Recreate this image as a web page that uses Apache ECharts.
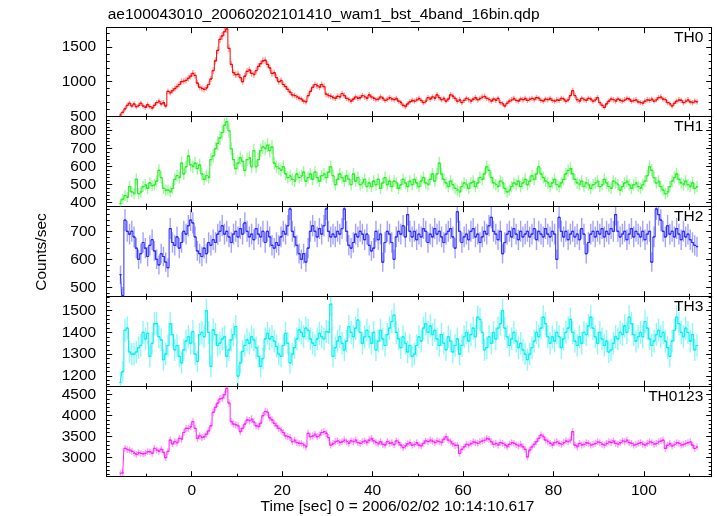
<!DOCTYPE html>
<html><head><meta charset="utf-8">
<script src="https://cdn.jsdelivr.net/npm/echarts@6/dist/echarts.min.js"></script>
<style>html,body{margin:0;padding:0;background:#fff}#c{width:717px;height:516px}</style>
</head><body><div id="c"></div>
<script>
// ---- data (0.5 s bins starting at t = -16 s) ----
const binStart = -16;
const binWidth = 0.5;
const xMajorTicks = [0, 20, 40, 60, 80, 100];
const xMinorTicks = [-10, 10, 30, 50, 70, 90, 110];
const panelNames = ['TH0', 'TH1', 'TH2', 'TH3', 'TH0123'];
const yTicksTH0 = [500, 1000, 1500];
const yTicksTH1 = [400, 500, 600, 700, 800];
const yTicksTH2 = [500, 600, 700];
const yTicksTH3 = [1200, 1300, 1400, 1500];
const yTicksTH0123 = [3000, 3500, 4000, 4500];

const th0 = [
520,560,610,660,690,650,680,640,660,690,
650,630,670,640,620,660,700,720,680,700,
650,860,840,870,900,930,960,1000,1010,1020,
1050,1080,1120,1090,980,920,900,890,910,960,
1040,1160,1300,1450,1610,1660,1720,1760,1480,1250,
1130,1100,1110,1060,1000,1080,1150,1170,1120,1100,
1160,1220,1260,1300,1310,1250,1200,1120,1130,1060,
1000,1020,960,930,890,850,810,800,780,760,
750,720,710,800,860,920,960,940,920,960,
930,820,800,790,770,760,790,780,830,800,
760,740,720,750,780,760,770,800,780,760,
810,780,760,740,750,780,760,730,750,770,
750,740,760,720,700,660,640,680,710,730,
720,740,760,730,700,720,770,750,780,760,
810,770,740,760,720,750,810,790,760,720,
740,700,730,760,740,720,750,770,740,760,
780,790,760,740,720,750,730,760,700,680,
650,690,720,740,760,730,720,750,740,760,
730,750,760,740,770,760,730,720,750,740,
760,730,720,740,730,760,750,720,740,800,
870,800,740,720,760,740,730,760,750,720,
740,770,700,660,630,680,720,750,740,720,
750,730,720,740,760,750,720,730,740,710,
700,690,720,740,730,750,720,740,770,780,
750,740,700,680,650,690,720,740,730,700,
720,740,710,700,720,710];

const th1 = [
395,420,440,430,490,460,450,530,450,460,
490,500,480,510,495,500,520,580,540,480,
470,470,460,480,530,550,540,620,560,600,
660,610,600,620,590,610,560,530,550,540,
640,660,700,730,760,790,830,850,800,700,
640,590,620,650,630,580,640,650,600,690,
600,640,690,710,700,720,690,710,620,600,
590,580,600,560,540,550,530,520,560,540,
550,570,520,540,560,530,570,540,520,550,
560,540,570,600,550,500,530,560,540,520,
550,530,500,560,520,540,500,510,530,490,
510,490,520,500,530,480,510,540,500,520,
490,520,510,480,500,530,510,490,520,500,
530,510,490,520,540,510,500,530,560,520,
560,620,560,530,510,490,520,500,480,470,
460,490,510,500,480,510,520,490,510,540,
530,560,600,580,540,510,500,490,520,510,
480,460,470,490,510,500,520,490,510,530,
500,520,550,530,560,600,560,540,520,510,
490,510,530,500,490,510,530,560,580,590,
560,530,510,500,520,490,510,500,480,500,
510,520,490,500,530,510,490,480,520,510,
500,470,490,510,520,500,480,500,510,490,
480,500,520,550,600,580,540,510,520,490,
470,450,460,490,520,540,560,530,510,500,
520,500,490,510,480,490];

const th2 = [
545,470,740,700,690,700,680,640,600,620,
660,640,610,650,670,630,600,580,620,610,
590,570,710,660,650,680,640,660,700,690,
720,740,730,680,630,620,610,640,620,660,
650,670,660,690,700,720,690,700,680,660,
690,700,680,710,690,730,700,680,690,670,
710,690,680,700,660,700,680,650,640,660,
650,680,700,690,720,780,700,680,650,620,
600,620,590,640,700,720,700,680,710,690,
720,780,700,680,690,680,700,690,710,780,
700,650,640,660,690,680,700,690,670,690,
650,630,640,700,670,690,590,660,700,690,
660,600,680,700,690,720,680,760,700,680,
700,670,690,680,710,700,660,690,680,710,
690,700,680,660,690,700,710,680,640,770,
700,660,680,690,670,700,710,680,690,660,
680,700,690,720,750,700,690,670,700,620,
660,690,700,680,710,690,670,700,680,690,
700,680,690,710,670,700,690,680,710,690,
680,700,690,600,750,700,680,700,670,690,
700,680,690,670,710,690,620,660,690,700,
680,700,690,710,680,700,690,710,700,760,
700,680,690,700,670,690,710,680,700,690,
680,700,670,690,700,590,680,780,760,740,
700,680,720,690,700,680,710,690,670,700,
680,690,670,660,650,645];

const th3 = [
1170,1220,1410,1420,1310,1300,1300,1310,1330,1340,
1400,1370,1396,1290,1350,1440,1440,1380,1366,1275,
1300,1340,1440,1390,1320,1340,1290,1260,1320,1360,
1380,1350,1404,1300,1267,1390,1400,1380,1500,1400,
1244,1412,1390,1340,1351,1370,1380,1290,1320,1366,
1390,1427,1199,1260,1313,1340,1366,1350,1380,1366,
1330,1290,1244,1280,1370,1396,1370,1381,1360,1336,
1300,1290,1340,1396,1350,1260,1300,1330,1370,1412,
1400,1380,1420,1410,1370,1351,1340,1370,1396,1380,
1370,1404,1400,1530,1290,1330,1360,1381,1350,1320,
1360,1427,1400,1380,1420,1457,1400,1350,1380,1410,
1380,1350,1400,1320,1360,1410,1370,1340,1390,1420,
1450,1480,1400,1370,1330,1380,1350,1310,1340,1290,
1300,1340,1380,1360,1420,1440,1400,1430,1390,1410,
1370,1340,1390,1350,1320,1380,1360,1310,1340,1370,
1300,1340,1380,1400,1360,1390,1420,1380,1470,1460,
1400,1320,1330,1380,1350,1400,1370,1420,1440,1500,
1420,1380,1340,1370,1400,1360,1330,1350,1320,1300,
1275,1300,1330,1360,1400,1380,1420,1470,1440,1380,
1350,1380,1360,1400,1380,1330,1370,1400,1420,1460,
1400,1360,1340,1380,1350,1400,1390,1430,1470,1420,
1380,1350,1400,1370,1340,1360,1310,1320,1350,1380,
1370,1400,1390,1430,1400,1470,1440,1390,1360,1380,
1400,1380,1450,1420,1370,1340,1360,1390,1410,1380,
1400,1360,1330,1290,1360,1410,1470,1440,1400,1380,
1420,1400,1360,1390,1320,1340];

const th0123 = [
2630,2640,3222,3190,3180,3150,3106,3080,3120,3100,
3090,3110,3145,3140,3100,3220,3180,3150,3200,3130,
3000,3150,3420,3330,3380,3350,3460,3440,3600,3700,
3700,3740,3860,3700,3460,3520,3480,3500,3560,3640,
3760,4080,4200,4300,4400,4420,4500,4650,4300,3860,
3800,3780,3760,3620,3700,3800,3900,3880,3920,3850,
3760,3740,3820,4000,4100,4080,3950,3900,3820,3760,
3700,3660,3600,3520,3500,3480,3380,3420,3360,3340,
3340,3300,3260,3580,3500,3520,3560,3500,3540,3600,
3620,3580,3480,3300,3340,3380,3400,3360,3380,3420,
3380,3340,3400,3380,3420,3360,3340,3380,3400,3360,
3420,3460,3400,3360,3330,3380,3320,3300,3380,3340,
3360,3310,3400,3360,3300,3240,3280,3330,3360,3300,
3320,3360,3300,3280,3340,3400,3380,3420,3390,3360,
3400,3380,3360,3440,3500,3420,3380,3330,3290,3300,
3100,3200,3260,3320,3300,3340,3380,3360,3340,3380,
3400,3420,3460,3440,3380,3320,3340,3300,3360,3340,
3300,3260,3320,3360,3340,3310,3280,3320,3260,3200,
3020,3180,3260,3320,3380,3460,3540,3500,3420,3380,
3340,3300,3360,3380,3340,3320,3360,3400,3380,3420,
3620,3300,3260,3340,3300,3320,3360,3340,3300,3320,
3340,3380,3360,3320,3300,3340,3380,3360,3400,3340,
3320,3360,3400,3380,3420,3360,3340,3300,3320,3340,
3360,3320,3300,3340,3380,3360,3320,3340,3380,3400,
3420,3220,3300,3340,3280,3320,3360,3340,3300,3320,
3340,3360,3380,3300,3220,3260];

// ---- layout / style ----
const FONT = '"Liberation Sans", Arial, Helvetica, sans-serif';
const XMIN = -18.8, XMAX = 115;
const edges = [27.7, 116.7, 206.7, 296.7, 386.2, 476.7];
const LEFT = 106.7, RIGHT = 5.3;
const panels = [
  {data: th0, ticks: yTicksTH0, minor: 100, min: 496, max: 1778, color: '#ff0000', bar: 'rgba(255,40,40,0.45)'},
  {data: th1, ticks: yTicksTH1, minor: 20, min: 378, max: 878, color: '#22ee22', bar: 'rgba(40,240,40,0.45)'},
  {data: th2, ticks: yTicksTH2, minor: 20, min: 466.4, max: 788, color: '#2a2aff', bar: 'rgba(50,50,255,0.45)'},
  {data: th3, ticks: yTicksTH3, minor: 20, min: 1153, max: 1564, color: '#00eeee', bar: 'rgba(0,240,240,0.45)'},
  {data: th0123, ticks: yTicksTH0123, minor: 100, min: 2548, max: 4702, color: '#ff22ff', bar: 'rgba(255,40,255,0.45)'}
];

const grid = [], xAxis = [], yAxis = [], series = [], graphic = [];
const lineStyle = {color: '#000', width: 1};
const plain = v => String(v);
panels.forEach((p, i) => {
  grid.push({left: LEFT, right: RIGHT, top: edges[i], height: edges[i + 1] - edges[i]});
  const yMinor = [];
  for (let v = Math.ceil(p.min / p.minor) * p.minor; v <= p.max; v += p.minor) {
    if (p.ticks.indexOf(v) < 0) yMinor.push(v);
  }
  const xb = {gridIndex: i, type: 'value', min: XMIN, max: XMAX, splitLine: {show: false}, axisLabel: {show: false}};
  const yb = {gridIndex: i, type: 'value', min: p.min, max: p.max, splitLine: {show: false}, axisLabel: {show: false}};
  const tickMajor = vals => ({show: true, inside: true, length: 5.5, customValues: vals, lineStyle: lineStyle});
  const tickMinor = vals => ({show: true, inside: true, length: 3, customValues: vals, lineStyle: lineStyle});
  xAxis.push(Object.assign({}, xb, {position: 'bottom', axisLine: {show: true, onZero: false, lineStyle: lineStyle},
    axisTick: tickMajor(xMajorTicks),
    axisLabel: i === 4 ? {show: true, customValues: xMajorTicks, formatter: plain, fontSize: 15.5, fontFamily: FONT, color: '#000', margin: 6} : {show: false}}));
  xAxis.push(Object.assign({}, xb, {position: 'bottom', axisLine: {show: false, onZero: false}, axisTick: tickMinor(xMinorTicks)}));
  xAxis.push(Object.assign({}, xb, {position: 'top', axisLine: {show: true, onZero: false, lineStyle: lineStyle}, axisTick: tickMajor(xMajorTicks)}));
  xAxis.push(Object.assign({}, xb, {position: 'top', axisLine: {show: false, onZero: false}, axisTick: tickMinor(xMinorTicks)}));
  yAxis.push(Object.assign({}, yb, {position: 'left', axisLine: {show: true, onZero: false, lineStyle: lineStyle},
    axisTick: tickMajor(p.ticks),
    axisLabel: {show: true, customValues: p.ticks, formatter: plain, fontSize: 15.5, fontFamily: FONT, color: '#000', margin: 10.5}}));
  yAxis.push(Object.assign({}, yb, {position: 'left', axisLine: {show: false, onZero: false}, axisTick: tickMinor(yMinor)}));
  yAxis.push(Object.assign({}, yb, {position: 'right', axisLine: {show: true, onZero: false, lineStyle: lineStyle}, axisTick: tickMajor(p.ticks)}));
  yAxis.push(Object.assign({}, yb, {position: 'right', axisLine: {show: false, onZero: false}, axisTick: tickMinor(yMinor)}));

  const pts = p.data.map((v, k) => [binStart + binWidth * (k + 0.5), v]);
  // error bars (vertical) + bin-width bars (horizontal)
  series.push({
    type: 'custom', name: panelNames[i] + ' err', xAxisIndex: 4 * i, yAxisIndex: 4 * i, clip: true, silent: true,
    data: pts,
    renderItem: function (params, api) {
      const t = api.value(0), v = api.value(1);
      const err = Math.sqrt(v / binWidth);
      const a = api.coord([t - binWidth / 2, v]);
      const b = api.coord([t + binWidth / 2, v]);
      const lo = api.coord([t, v - err]);
      const hi = api.coord([t, v + err]);
      return {type: 'group', children: [
        {type: 'line', shape: {x1: lo[0], y1: lo[1], x2: hi[0], y2: hi[1]}, style: {stroke: p.bar, lineWidth: 1.4}},
        {type: 'line', shape: {x1: a[0], y1: a[1], x2: b[0], y2: b[1]}, style: {stroke: p.color, lineWidth: 1.2}}
      ]};
    }
  });
  // light-curve steps joining the bins
  series.push({
    type: 'line', name: panelNames[i], xAxisIndex: 4 * i, yAxisIndex: 4 * i, step: 'middle', showSymbol: false,
    silent: true, clip: true, data: pts, lineStyle: {color: p.color, width: 1}, itemStyle: {color: p.color}
  });

  graphic.push({type: 'text', x: 703.3, y: edges[i] + 10.5, silent: true,
    style: {text: panelNames[i], fill: '#000', font: '15.5px ' + FONT, align: 'right', verticalAlign: 'middle', textAlign: 'right', textVerticalAlign: 'middle'}});
});

graphic.push({type: 'text', x: 107.7, y: 14.5, silent: true,
  style: {text: 'ae100043010_20060202101410_wam1_bst_4band_16bin.qdp', fill: '#000', font: '15.5px ' + FONT, align: 'left', verticalAlign: 'middle', textAlign: 'left', textVerticalAlign: 'middle'}});
graphic.push({type: 'text', x: 397.5, y: 506.5, silent: true,
  style: {text: 'Time [sec] 0 = 2006/02/02 10:14:10.617', fill: '#000', font: '15.5px ' + FONT, align: 'center', verticalAlign: 'middle', textAlign: 'center', textVerticalAlign: 'middle'}});
graphic.push({type: 'text', x: 42, y: 252, rotation: Math.PI / 2, silent: true,
  style: {text: 'Counts/sec', fill: '#000', font: '15.5px ' + FONT, align: 'center', verticalAlign: 'middle', textAlign: 'center', textVerticalAlign: 'middle'}});

const chart = echarts.init(document.getElementById('c'), null, {renderer: 'canvas'});
chart.setOption({backgroundColor: '#fff', animation: false, grid, xAxis, yAxis, series, graphic});
</script></body></html>
